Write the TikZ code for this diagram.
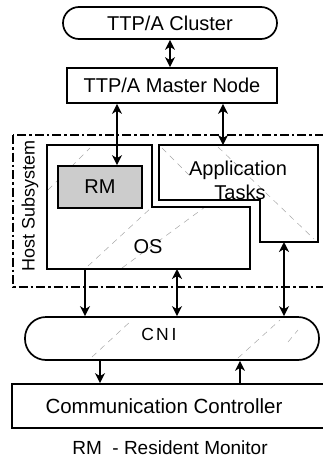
\documentclass[tikz,border=0pt]{standalone}
\usepackage{fontspec}
\setmainfont{Liberation Sans}
\usetikzlibrary{arrows.meta}
\begin{document}
\begin{tikzpicture}[x=1pt,y=-1pt,
  every node/.style={font=\fontsize{20}{24}\selectfont, inner sep=0pt},
  box/.style={draw, line width=1.7pt},
  pill/.style={draw, line width=1.7pt, rounded corners=16pt},
  frame/.style={line width=1.5pt, dash pattern=on 9pt off 3pt on 2.5pt off 3pt},
  link/.style={line width=1.6pt},
  hatch/.style={black!35, line width=0.5pt, dash pattern=on 6pt off 5pt},
  >={Stealth[length=10pt,width=10pt,inset=3pt]}
]
\useasboundingbox (0,0) rectangle (323,464);
\clip (0,0) rectangle (323,464);

% top: cluster and master node
\node[pill, minimum width=214pt, minimum height=32pt] (cluster) at (170,23) {TTP/A Cluster};
\node[box, minimum width=210pt, minimum height=35pt] (master) at (172,85.5) {TTP/A Master Node};

% host subsystem frame
\draw[frame] (13,135) rectangle (340,287);
\node[rotate=90, font=\fontsize{18}{20}\selectfont] (host) at (30,206) {Host Subsystem};

% operating system (L-shaped)
\coordinate (os-nw) at (47,145);
\coordinate (os-se) at (250,269);
\begin{scope}
  \clip (47,145) -- (152,145) -- (152,207) -- (250,207) -- (250,269) -- (47,269) -- cycle;
  \draw[hatch] (48,190) -- (90,148);
  \draw[hatch] (88,266) -- (190,172);
  \draw[hatch] (122,268) -- (205,207);
\end{scope}
\draw[line width=1.7pt] (47,145) -- (152,145) -- (152,207) -- (250,207) -- (250,269) -- (47,269) -- cycle;
\node (os) at (148,247) {OS};

% application tasks (L-shaped)
\coordinate (app-top) at (223,145);
\coordinate (app-bot) at (284,242);
\begin{scope}
  \clip (159,145) -- (318,145) -- (318,242) -- (260,242) -- (260,200) -- (159,200) -- cycle;
  \draw[hatch] (162,148) -- (190,176);
  \draw[hatch] (218,147) -- (314,239);
\end{scope}
\draw[line width=1.7pt] (159,145) -- (318,145) -- (318,242) -- (260,242) -- (260,200) -- (159,200) -- cycle;
\node (apptxt) at (238,170) {Application};
\node (tasks) at (240,192) {Tasks};

% resident monitor
\node[box, fill=black!20, minimum width=84pt, minimum height=42pt] (rm) at (100,187) {RM};

% communication network interface
\node[draw, line width=1.7pt, rounded corners=21pt, minimum width=294pt, minimum height=43pt] (cni) at (172,338.5) {};
\begin{scope}
  \clip[rounded corners=21pt] (25,317) rectangle (319,360);
  \draw[hatch] (92,357) -- (132,320);
  \draw[hatch] (238,358) -- (280,320);
  \draw[hatch] (288,342) -- (298,330);
\end{scope}
\node[font=\fontsize{17.5}{20}\selectfont] (cnitxt) at (159,334) {C\kern2pt N\kern3pt I};

% communication controller
\node[box, minimum width=318pt, minimum height=44pt] (cc) at (171,406) {};
\node[font=\fontsize{20.5}{24}\selectfont] (cctxt) at (164,406) {Communication Controller};

% legend
\node[font=\fontsize{19}{22}\selectfont] (legend) at (170,448) {RM\ \ - Resident Monitor};

% connector columns
\coordinate (c1) at (117,0);
\coordinate (c2) at (85,0);
\coordinate (c3) at (177,0);
\coordinate (c4) at (100,0);
\coordinate (c5) at (240,0);
\coordinate (os-b) at (0,269);

\draw[link,<->] (cluster.south) -- (cluster.south |- master.north);
\draw[link,<->] (master.south -| c1) -- (rm.north -| c1);
\draw[link,<->] (master.south -| app-top) -- (app-top);
\draw[link,->] (os-b -| c2) -- (cni.north -| c2);
\draw[link,<->] (os-b -| c3) -- (cni.north -| c3);
\draw[link,<->] (app-bot) -- (cni.north -| app-bot);
\draw[link,->] (cni.south -| c4) -- (cc.north -| c4);
\draw[link,->] (cc.north -| c5) -- (cni.south -| c5);
\end{tikzpicture}
\end{document}
